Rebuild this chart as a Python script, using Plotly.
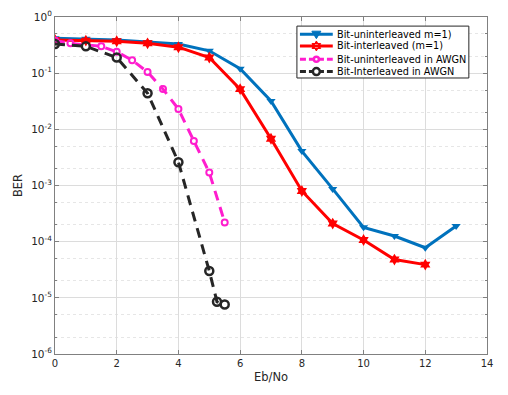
import plotly.graph_objects as go

# Eb/No axis values
ebno_ray = [0, 1, 2, 3, 4, 5, 6, 7, 8, 9, 10, 11, 12, 13]
ebno_ray_int = [0, 1, 2, 3, 4, 5, 6, 7, 8, 9, 10, 11, 12]
ebno_awgn_un = [0, 0.5, 1.5, 2, 2.5, 3, 3.5, 4, 4.5, 5, 5.5]
ebno_awgn_int = [0, 1, 2, 3, 4, 5, 5.25, 5.5]

# BER curves
ber_uninterleaved = [0.42, 0.41, 0.39, 0.36, 0.33, 0.25, 0.12, 0.032, 0.0041,
                     0.00087, 1.8e-4, 1.26e-4, 7.8e-5, 1.9e-4]
ber_interleaved = [0.39, 0.38, 0.37, 0.34, 0.29, 0.19, 0.052, 0.0068, 8.0e-4,
                   2.1e-4, 1.07e-4, 4.8e-5, 3.9e-5]
ber_awgn_un = [0.38, 0.34, 0.30, 0.24, 0.17, 0.105, 0.052, 0.023, 0.0062,
               0.0017, 2.2e-4]
ber_awgn_int = [0.33, 0.30, 0.19, 0.044, 0.0026, 3.0e-5, 8.5e-6, 7.6e-6]

x_tickvals = [0, 2, 4, 6, 8, 10, 12, 14]
y_tickvals = [1e-6, 1e-5, 1e-4, 1e-3, 1e-2, 1e-1, 1]
y_ticktext = ["10<sup>-6</sup>", "10<sup>-5</sup>", "10<sup>-4</sup>", "10<sup>-3</sup>",
              "10<sup>-2</sup>", "10<sup>-1</sup>", "10<sup>0</sup>"]

BLUE = "#0072BD"
RED = "#FF0000"
PINK = "#FF1DCE"
DARK = "#262626"
DASH = "10px,7px"

# (name, colour, line dash, marker kind)
series = [
    ("Bit-uninterleaved m=1)", BLUE, "solid", "tri"),
    ("Bit-interleaved (m=1)", RED, "solid", "hex"),
    ("Bit-uninterleaved in AWGN", PINK, DASH, "circ_small"),
    ("Bit-Interleaved in AWGN", DARK, DASH, "circ"),
]

fig = go.Figure()

fig.add_trace(go.Scatter(
    x=ebno_ray, y=ber_uninterleaved, mode="lines+markers", name=series[0][0],
    line=dict(color=BLUE, width=3),
    marker=dict(symbol="triangle-down", size=8, color=BLUE),
))
fig.add_trace(go.Scatter(
    x=ebno_ray_int, y=ber_interleaved, mode="lines+markers", name=series[1][0],
    line=dict(color=RED, width=3),
    marker=dict(symbol="hexagram", size=9, color=RED),
))
fig.add_trace(go.Scatter(
    x=ebno_awgn_un, y=ber_awgn_un, mode="lines+markers", name=series[2][0],
    line=dict(color=PINK, width=3, dash=DASH),
    marker=dict(symbol="circle-open", size=6, color=PINK, line=dict(width=2)),
))
fig.add_trace(go.Scatter(
    x=ebno_awgn_int, y=ber_awgn_int, mode="lines+markers", name=series[3][0],
    line=dict(color=DARK, width=3, dash=DASH),
    marker=dict(symbol="circle-open", size=8, color=DARK, line=dict(width=2.5)),
))

# Compact MATLAB-like legend drawn with shapes + annotations
# (plotly's own legend rows are too tall for this layout)
LEG_X0, LEG_X1 = 0.560, 0.958
LEG_Y0, LEG_Y1 = 0.819, 0.973
row_y = [0.949, 0.914, 0.875, 0.838]
samp_x0, samp_x1, samp_xm = 0.567, 0.643, 0.605
text_x = 0.648

shapes = [dict(type="rect", xref="paper", yref="paper",
               x0=LEG_X0, x1=LEG_X1, y0=LEG_Y0, y1=LEG_Y1,
               line=dict(color=DARK, width=1), fillcolor="white", layer="above")]
annotations = []
tri_path = "M -4.5,3 L 4.5,3 L 0,-4.5 Z"
hex_path = ("M 0,5 L 4.3,-2.5 L -4.3,-2.5 Z "
            "M 0,-5 L -4.3,2.5 L 4.3,2.5 Z")
for (name, col, dash, kind), yy in zip(series, row_y):
    shapes.append(dict(type="line", xref="paper", yref="paper",
                       x0=samp_x0, x1=samp_x1, y0=yy, y1=yy,
                       line=dict(color=col, width=3,
                                 dash="solid" if dash == "solid" else "6px,3px"),
                       layer="above"))
    base = dict(xref="paper", yref="paper", xsizemode="pixel", ysizemode="pixel",
                xanchor=samp_xm, yanchor=yy, layer="above")
    if kind == "tri":
        shapes.append(dict(type="path", path=tri_path, fillcolor=col,
                           line=dict(color=col, width=1), **base))
    elif kind == "hex":
        shapes.append(dict(type="path", path=hex_path, fillcolor=col,
                           line=dict(color=col, width=1), **base))
    else:
        r = 2.5 if kind == "circ_small" else 3.5
        shapes.append(dict(type="circle", x0=-r, x1=r, y0=-r, y1=r,
                           fillcolor="white", line=dict(color=col, width=2.5), **base))
    annotations.append(dict(xref="paper", yref="paper", x=text_x, y=yy,
                            xanchor="left", yanchor="middle", showarrow=False,
                            text=name, font=dict(size=9.7, color="#000000")))

fig.update_layout(
    # the page body adds an 8px offset, so the figure is sized to fit the window
    width=500, height=387,
    margin=dict(l=47, r=21, t=9, b=41),
    paper_bgcolor="white", plot_bgcolor="white",
    font=dict(family="DejaVu Sans, sans-serif", size=10, color=DARK),
    showlegend=False,
    shapes=shapes,
    annotations=annotations,
)

fig.update_xaxes(
    range=[0, 14], tickvals=x_tickvals,
    title=dict(text="Eb/No", standoff=4, font=dict(size=11.5)),
    tickfont=dict(size=10),
    showgrid=True, gridcolor="#dcdcdc", gridwidth=1,
    showline=True, linecolor="#808080", linewidth=1, mirror="ticks",
    ticks="inside", ticklen=4, tickcolor="#808080",
    zeroline=False, automargin=False,
)
fig.update_yaxes(
    type="log", range=[-6, 0],
    tickvals=y_tickvals, ticktext=y_ticktext,
    title=dict(text="BER", standoff=6, font=dict(size=11.5)),
    tickfont=dict(size=10.5),
    showgrid=True, gridcolor="#dcdcdc", gridwidth=1,
    minor=dict(showgrid=True, gridcolor="#e6e6e6", griddash="dot",
               ticks="inside", ticklen=2, tickcolor="#808080"),
    showline=True, linecolor="#808080", linewidth=1, mirror="ticks",
    ticks="inside", ticklen=4, tickcolor="#808080",
    zeroline=False, automargin=False,
)

fig.write_html("out.html")
